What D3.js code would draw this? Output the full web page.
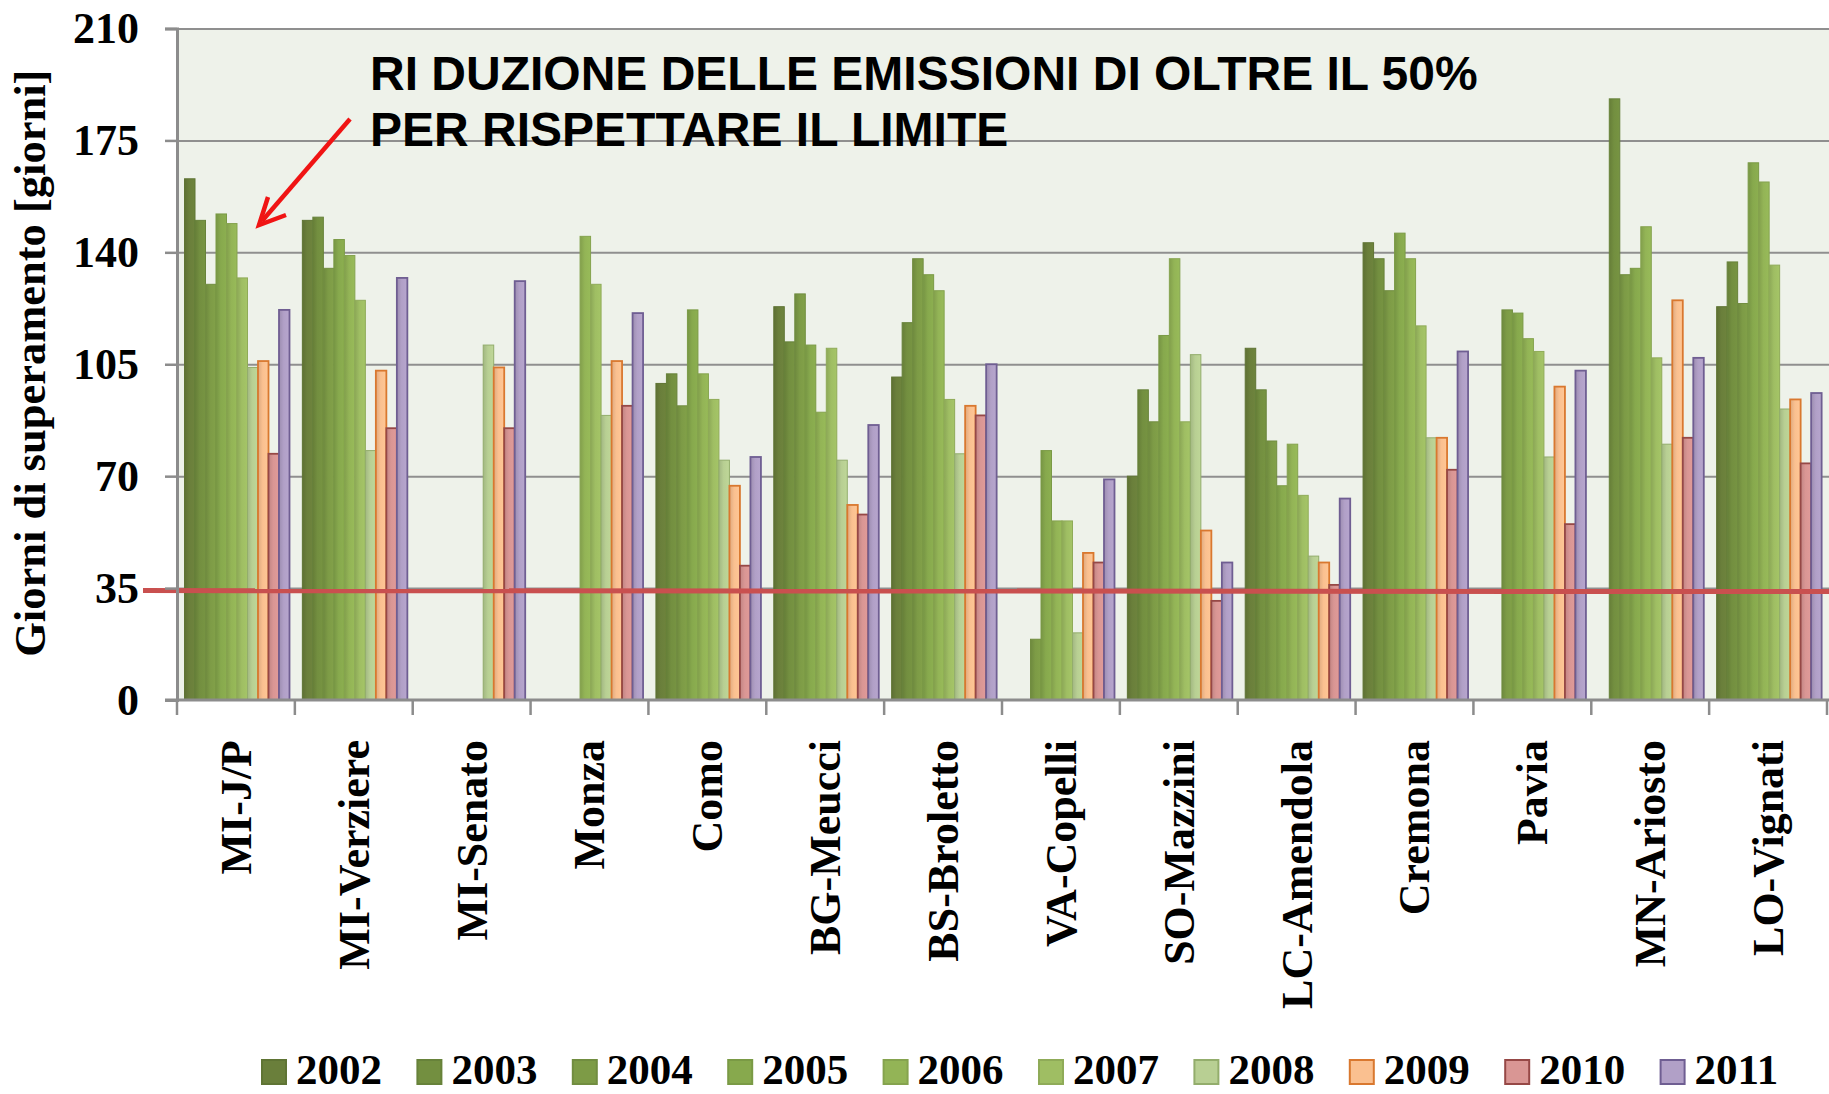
<!DOCTYPE html>
<html>
<head>
<meta charset="utf-8">
<script src="https://cdn.jsdelivr.net/npm/d3@7"></script>
<style>
  body { margin: 0; background: #fff; }
  svg { display: block; }
</style>
</head>
<body>
<div id="chart"></div>
<script>
// Data (days over the PM10 limit per station and year)
var stations = ["MI-J/P", "MI-Verziere", "MI-Senato", "Monza", "Como", "BG-Meucci", "BS-Broletto",
                "VA-Copelli", "SO-Mazzini", "LC-Amendola", "Cremona", "Pavia", "MN-Ariosto", "LO-Vignati"];
var years = ["2002", "2003", "2004", "2005", "2006", "2007", "2008", "2009", "2010", "2011"];

var v2002 = [163, 150, null, null,  99, 123, 101, null,  70, 110, 143, null, null, 123];
var v2003 = [150, 151, null, null, 102, 112, 118, null,  97,  97, 138, null, 188, 137];
var v2004 = [130, 135, null, null,  92, 127, 138,  19,  87,  81, 128, 122, 133, 124];
var v2005 = [152, 144, null, null, 122, 111, 133,  78, 114,  67, 146, 121, 135, 168];
var v2006 = [149, 139, null, 145, 102,  90, 128,  56, 138,  80, 138, 113, 148, 162];
var v2007 = [132, 125, null, 130,  94, 110,  94,  56,  87,  64, 117, 109, 107, 136];
var v2008 = [104,  78, 111,  89,  75,  75,  77,  21, 108,  45,  82,  76,  80,  91];
var v2009 = [106, 103, 104, 106,  67,  61,  92,  46,  53,  43,  82,  98, 125,  94];
var v2010 = [ 77,  85,  85,  92,  42,  58,  89,  43,  31,  36,  72,  55,  82,  74];
var v2011 = [122, 132, 131, 121,  76,  86, 105,  69,  43,  63, 109, 103, 107,  96];

var series = [v2002, v2003, v2004, v2005, v2006, v2007, v2008, v2009, v2010, v2011];

var yTicks = [0, 35, 70, 105, 140, 175, 210];
var limit = 35;

var fills   = ["#6a7f3b", "#738f40", "#7d9b46", "#87a94d", "#93b456", "#9fbe63", "#b8cf93", "#fac090", "#d99694", "#b1a0c7"];
var strokes = ["#5f7434", "#67823a", "#718d40", "#7a9a45", "#85a34e", "#8fab58", "#93ad6c", "#d9782f", "#964846", "#6f5e92"];

// Layout
var width = 1829, height = 1094;
var plotLeft = 177, plotRight = 1827, plotTop = 28.5, plotBottom = 700;

var svg = d3.select("#chart").append("svg")
  .attr("width", width)
  .attr("height", height);

var x0 = d3.scaleBand().domain(stations).range([plotLeft, plotRight]);
var x1 = d3.scaleBand().domain(years).range([7.5, 112.5]);
var y = d3.scaleLinear().domain([0, 210]).range([plotBottom, plotTop]);

// gradients for the bars, a bit darker on the left side like the original
var defs = svg.append("defs");
years.forEach(function(yr, i) {
  var g = defs.append("linearGradient").attr("id", "g" + yr)
    .attr("x1", "0%").attr("x2", "100%").attr("y1", "0%").attr("y2", "0%");
  g.append("stop").attr("offset", "0%").attr("stop-color", d3.color(fills[i]).darker(0.35));
  g.append("stop").attr("offset", "45%").attr("stop-color", fills[i]);
  g.append("stop").attr("offset", "100%").attr("stop-color", d3.color(fills[i]).brighter(0.1));
});

// plot background
svg.append("rect")
  .attr("x", plotLeft).attr("y", plotTop)
  .attr("width", width - plotLeft).attr("height", plotBottom - plotTop)
  .attr("fill", "#eef2ea");

// gridlines
svg.append("g")
  .attr("transform", "translate(" + plotLeft + ",0)")
  .call(d3.axisLeft(y).tickValues(yTicks.slice(1)).tickSize(-(width - plotLeft)).tickFormat(""))
  .call(function(g) {
    g.select(".domain").remove();
    g.selectAll("line").attr("stroke", "#8f8f8f").attr("stroke-width", 2);
  });

// bars
var groups = svg.append("g").selectAll("g")
  .data(stations)
  .enter().append("g")
  .attr("transform", function(d) { return "translate(" + x0(d) + ",0)"; });

groups.selectAll("rect")
  .data(function(d, si) {
    return years.map(function(yr, yi) { return {year: yr, idx: yi, value: series[yi][si]}; })
      .filter(function(e) { return e.value != null; });
  })
  .enter().append("rect")
  .attr("x", function(d) { return x1(d.year); })
  .attr("width", x1.bandwidth())
  .attr("y", function(d) { return y(d.value); })
  .attr("height", function(d) { return y(0) - y(d.value); })
  .attr("fill", function(d) { return "url(#g" + d.year + ")"; })
  .attr("stroke", function(d) { return strokes[d.idx]; })
  .attr("stroke-width", function(d) { return d.idx >= 7 ? 1.8 : 1; });

// limit line (35 days)
svg.append("line")
  .attr("x1", plotLeft - 34).attr("x2", width)
  .attr("y1", y(limit) + 2.5).attr("y2", y(limit) + 3.5)
  .attr("stroke", "#c9504f")
  .attr("stroke-width", 5);

// y axis
svg.append("g")
  .attr("transform", "translate(" + plotLeft + ",0)")
  .call(d3.axisLeft(y).tickValues(yTicks).tickSize(12).tickPadding(26))
  .call(function(g) {
    g.select(".domain").attr("stroke", "#8c8c8c").attr("stroke-width", 3);
    g.selectAll("line").attr("stroke", "#8c8c8c").attr("stroke-width", 2.5);
    g.selectAll("text")
      .attr("fill", "#000")
      .style("font-family", "'Times New Roman', 'Liberation Serif', serif")
      .style("font-weight", "bold")
      .style("font-size", "44px");
  });

// x axis line + ticks on category borders
var xAxis = svg.append("g");
xAxis.append("line")
  .attr("x1", plotLeft - 12).attr("x2", width)
  .attr("y1", plotBottom).attr("y2", plotBottom)
  .attr("stroke", "#8c8c8c").attr("stroke-width", 3);
xAxis.selectAll(".tk")
  .data(stations.concat(["end"]))
  .enter().append("line")
  .attr("x1", function(d) { return d == "end" ? plotRight : x0(d); })
  .attr("x2", function(d) { return d == "end" ? plotRight : x0(d); })
  .attr("y1", plotBottom).attr("y2", plotBottom + 15)
  .attr("stroke", "#8c8c8c").attr("stroke-width", 2.5);

// category labels
xAxis.selectAll("text")
  .data(stations)
  .enter().append("text")
  .attr("transform", function(d) {
    return "translate(" + (x0(d) + x0.bandwidth() / 2) + "," + (plotBottom + 40) + ") rotate(-90)";
  })
  .attr("dy", "0.34em")
  .attr("text-anchor", "end")
  .style("font-family", "'Times New Roman', 'Liberation Serif', serif")
  .style("font-weight", "bold")
  .style("font-size", "44px")
  .text(function(d) { return d; });

// y axis title
svg.append("text")
  .attr("transform", "translate(45," + ((plotTop + plotBottom) / 2 - 1) + ") rotate(-90)")
  .attr("text-anchor", "middle")
  .style("font-family", "'Times New Roman', 'Liberation Serif', serif")
  .style("font-weight", "bold")
  .style("font-size", "44.5px")
  .text("Giorni di superamento [giorni]");

// annotation
var note = svg.append("text")
  .style("font-family", "Arial, 'Liberation Sans', sans-serif")
  .style("font-weight", "bold")
  .style("font-size", "48px")
  .attr("fill", "#000");
note.append("tspan").attr("x", 370).attr("y", 89.5).text("RI DUZIONE DELLE EMISSIONI DI OLTRE IL 50%");
note.append("tspan").attr("x", 370).attr("y", 146).text("PER RISPETTARE IL LIMITE");

// red arrow
svg.append("line")
  .attr("x1", 350).attr("y1", 119).attr("x2", 262).attr("y2", 221)
  .attr("stroke", "#f01414").attr("stroke-width", 4.5);
svg.append("path")
  .attr("d", "M268,197 L259,225 L286,215")
  .attr("fill", "none")
  .attr("stroke", "#f01414").attr("stroke-width", 4.5)
  .attr("stroke-linejoin", "miter");

// legend
var legend = svg.append("g").selectAll("g")
  .data(years)
  .enter().append("g")
  .attr("transform", function(d, i) { return "translate(" + (262 + i * 155.4) + ",1060)"; });

legend.append("rect")
  .attr("width", 24).attr("height", 24)
  .attr("fill", function(d, i) { return fills[i]; })
  .attr("stroke", function(d, i) { return strokes[i]; })
  .attr("stroke-width", 2);

legend.append("text")
  .attr("x", 34).attr("y", 24)
  .style("font-family", "'Times New Roman', 'Liberation Serif', serif")
  .style("font-weight", "bold")
  .style("font-size", "43px")
  .text(function(d) { return d; });
</script>
</body>
</html>
